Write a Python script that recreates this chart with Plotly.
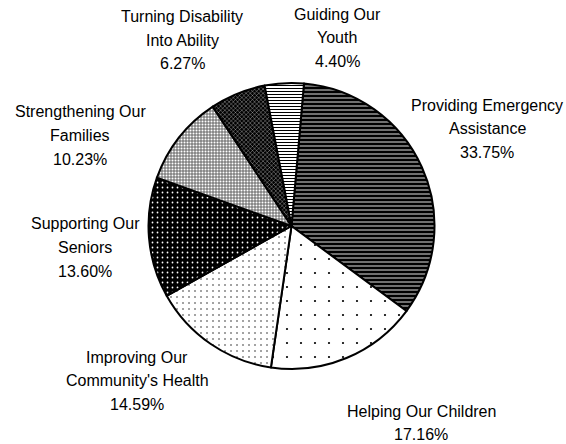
import plotly.graph_objects as go

# Share of funds by program area
programs = [
    "Providing Emergency\nAssistance",
    "Helping Our Children",
    "Improving Our\nCommunity's Health",
    "Supporting Our\nSeniors",
    "Strengthening Our\nFamilies",
    "Turning Disability\nInto Ability",
    "Guiding Our\nYouth",
]
shares = [33.75, 17.16, 14.59, 13.60, 10.23, 6.27, 4.40]

W, H = 566, 444

# Dithered-looking fills for each slice
pat_shape = ["-", ".", ".", ".", ".", "x", "-"]
pat_fg = ["#ffffff", "#000000", "#000000", "#ffffff", "#ffffff", "#ffffff", "#000000"]
pat_bg = ["#000000", "#ffffff", "#ffffff", "#000000", "#808080", "#000000", "#ffffff"]
pat_size = [4, 14, 6, 5, 3, 3, 3]
pat_solid = [0.22, 0.02, 0.04, 0.1, 0.35, 0.2, 0.35]

# Pie placement (pixels): centre and radius
cx, cy, r = 291.5, 226, 143

fig = go.Figure(
    go.Pie(
        values=shares,
        labels=[p.replace("\n", " ") for p in programs],
        sort=False,
        direction="clockwise",
        rotation=5,
        textinfo="none",
        hoverinfo="label+percent",
        marker=dict(
            colors=pat_bg,
            line=dict(color="#000000", width=2),
            pattern=dict(
                shape=pat_shape,
                fgcolor=pat_fg,
                bgcolor=pat_bg,
                size=pat_size,
                solidity=pat_solid,
                fillmode="replace",
            ),
        ),
        domain=dict(
            x=[(cx - r) / W, (cx + r) / W],
            y=[1 - (cy + r) / H, 1 - (cy - r) / H],
        ),
        showlegend=False,
    )
)

# Label anchor (centre x, first-line y) in pixels for each slice
label_pos = [
    (487, 105),
    (421, 411),
    (137, 357),
    (85, 224),
    (80, 112),
    (182, 17),
    (337, 14),
]
line_gap = 23.5

annotations = []
for name, val, (lx, ly) in zip(programs, shares, label_pos):
    lines = name.split("\n") + [f"{val:.2f}%"]
    for i, line in enumerate(lines):
        annotations.append(
            dict(
                x=lx / W,
                y=1 - (ly + i * line_gap) / H,
                xref="paper",
                yref="paper",
                text=line,
                showarrow=False,
                xanchor="center",
                yanchor="middle",
                font=dict(family="Liberation Sans, Arial, sans-serif", size=16, color="#000000"),
            )
        )

fig.update_layout(
    width=W,
    height=H,
    margin=dict(l=0, r=0, t=0, b=0),
    paper_bgcolor="#ffffff",
    plot_bgcolor="#ffffff",
    annotations=annotations,
)

fig.write_html("out.html")
